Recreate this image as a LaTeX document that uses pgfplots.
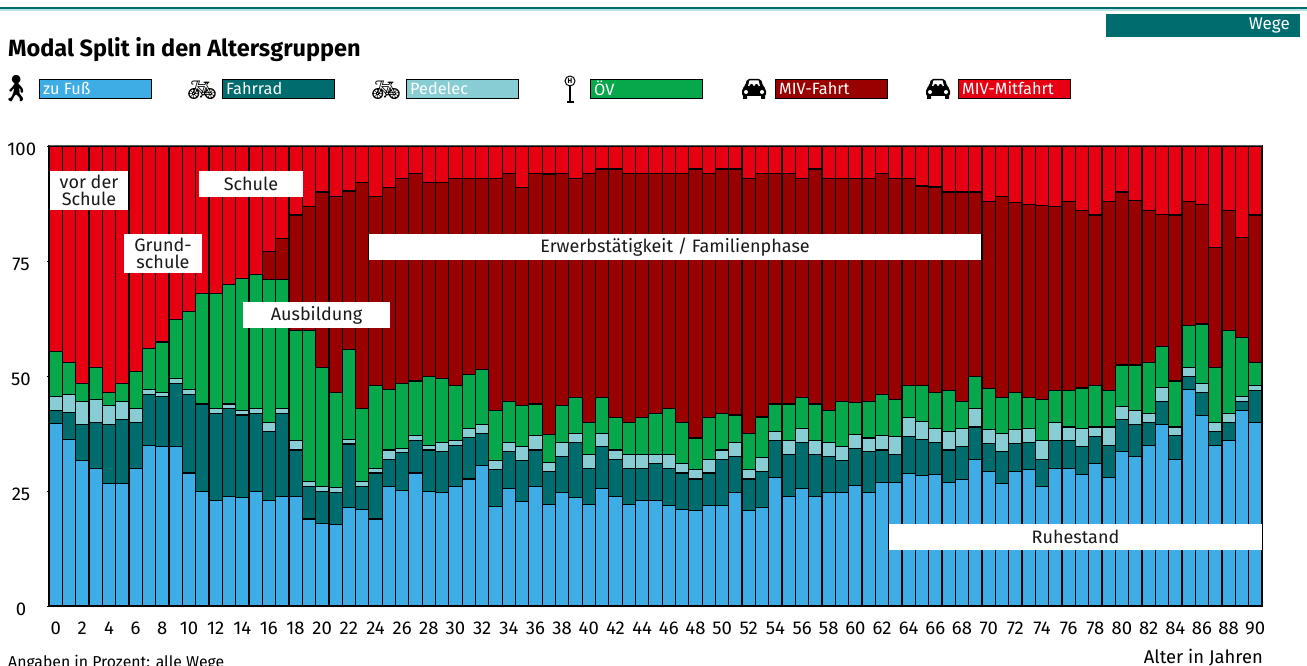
\documentclass[border=0pt]{standalone}
\usepackage{fontspec}
\setmainfont{Fira Sans}
\newfontfamily\emoji{Noto Emoji}
\usepackage{pgfplots}
\usepackage{pgfplotstable}
\pgfplotsset{compat=1.18}

\definecolor{fuss}{HTML}{3FADE5}
\definecolor{rad}{HTML}{006C6E}
\definecolor{ped}{HTML}{88CDD3}
\definecolor{oev}{HTML}{07A74C}
\definecolor{fahrt}{HTML}{990000}
\definecolor{mit}{HTML}{E60012}

% shares in percent
\pgfplotstableread{
age fuss rad ped oev fahrt mit
0 39.6 2.9 3.0 9.8 0 44.7
1 36.2 5.8 4.0 6.9 0 47.1
2 31.6 7.9 5.0 3.9 0 51.6
3 29.9 10.0 5.0 7.0 0 48.1
4 26.7 12.8 4.0 2.9 0 53.6
5 26.7 13.9 3.9 3.9 0 51.6
6 29.9 10.0 3.0 8.0 0 49.1
7 34.9 11.0 1.1 8.9 0 44.1
8 34.6 10.9 0.9 11.0 0 42.6
9 34.6 13.8 1.0 12.9 0 37.7
10 28.9 17.0 1.1 17.0 0 36.0
11 24.9 19.0 0 24.1 0 32.0
12 22.9 19.0 1.0 25.1 0 32.0
13 23.8 19.1 1.0 26.0 0 30.1
14 23.6 17.9 1.0 28.7 0 28.8
15 24.9 17.0 1.0 29.1 0 28.0
16 22.9 15.1 1.9 31.1 6.0 23.0
17 23.8 18.1 1.0 28.1 8.9 20.1
18 23.8 10.1 2.0 24.0 25.1 15.0
19 18.9 7.0 1.1 32.9 27.0 13.1
20 18.0 6.9 1.0 26.0 38.1 10.0
21 17.8 6.8 1.1 20.7 42.7 10.9
22 21.4 13.8 1.0 19.6 34.4 9.8
23 20.9 5.0 1.1 15.9 49.1 8.0
24 18.9 10.0 1.0 18.0 41.2 10.9
25 25.9 6.0 2.0 13.1 44.0 9.0
26 25.1 8.2 0.9 14.2 44.6 7.0
27 28.9 7.0 1.1 11.9 45.1 6.0
28 24.9 9.0 1.0 15.0 42.1 8.0
29 24.6 9.0 1.9 13.9 42.6 8.0
30 25.9 9.0 1.0 12.0 45.1 7.0
31 27.6 9.0 2.0 11.8 42.6 7.0
32 30.6 6.9 1.9 12.0 41.6 7.0
33 21.7 7.9 2.0 10.9 50.5 7.0
34 25.6 8.0 1.9 8.9 49.6 6.0
35 22.8 8.8 3.0 8.9 47.5 9.0
36 25.9 8.0 3.1 6.9 50.1 6.0
37 22.1 7.1 2.0 6.0 56.7 6.1
38 24.6 7.9 3.0 8.0 50.5 6.0
39 23.6 11.9 2.0 7.9 47.6 7.0
40 22.0 7.9 3.0 7.0 54.1 6.0
41 25.6 9.0 2.9 7.9 49.6 5.0
42 23.8 8.1 2.0 7.0 54.1 5.0
43 22.0 7.9 3.0 7.0 54.1 6.0
44 22.9 7.0 3.0 8.0 53.1 6.0
45 22.9 8.0 2.0 9.0 52.1 6.0
46 21.9 8.0 3.0 10.0 51.1 6.0
47 20.9 8.0 2.0 9.0 54.1 6.0
48 20.7 6.9 2.0 6.9 58.5 5.0
49 21.9 7.0 3.0 9.0 53.1 6.0
50 21.9 10.0 2.0 8.0 53.1 5.0
51 24.6 7.9 3.0 6.0 53.5 5.0
52 20.7 6.9 2.0 7.9 55.5 7.0
53 21.4 7.9 2.9 8.9 52.9 6.0
54 27.9 8.0 2.0 6.0 50.1 6.0
55 23.8 9.1 3.0 8.0 50.1 6.0
56 25.6 10.0 3.0 6.8 47.6 7.0
57 23.8 9.1 3.0 8.0 51.1 5.0
58 24.6 7.9 3.0 7.0 50.5 7.0
59 24.6 7.0 3.0 9.8 48.6 7.0
60 26.2 8.0 3.0 7.1 48.7 7.0
61 24.6 9.0 2.9 7.9 48.6 7.0
62 26.9 7.0 3.1 8.9 48.1 6.0
63 26.9 6.1 3.9 8.0 48.1 7.0
64 28.8 8.1 4.0 7.0 45.1 7.0
65 28.4 7.8 3.9 7.8 43.4 8.7
66 28.6 7.0 3.0 7.8 44.7 8.9
67 26.9 7.0 4.0 9.0 43.1 10.0
68 27.5 7.1 4.0 5.8 45.6 10.0
69 31.9 7.0 4.0 7.0 40.1 10.0
70 29.2 6.1 3.0 9.0 40.6 12.1
71 26.7 6.9 3.9 7.9 43.6 11.0
72 29.2 6.1 3.0 8.1 41.4 12.2
73 29.6 6.0 3.0 6.8 41.8 12.8
74 25.9 6.0 4.0 9.0 42.1 13.0
75 29.9 6.0 4.0 7.0 40.0 13.1
76 29.9 6.0 3.0 8.0 41.1 12.0
77 28.6 6.0 4.0 8.8 38.6 14.0
78 30.9 6.0 2.0 9.0 37.1 15.0
79 27.9 7.0 4.0 8.0 41.1 12.0
80 33.6 7.0 2.8 9.0 37.6 10.0
81 32.5 7.0 3.0 9.9 35.7 11.9
82 34.9 5.0 2.0 11.0 33.1 14.0
83 39.5 4.9 3.1 8.9 28.7 14.9
84 31.9 5.1 1.9 10.0 36.1 15.0
85 47.0 2.9 2.0 9.0 27.1 12.0
86 41.4 5.0 2.0 12.9 25.9 12.8
87 34.9 3.0 2.0 12.0 26.1 22.0
88 35.9 4.0 2.0 18.0 26.1 14.0
89 42.5 2.0 1.0 12.8 21.8 19.9
90 39.9 7.0 1.0 5.0 32.1 15.0
}\modal

% black car seen from the front, centred on #1,#2
\newcommand{\car}[2]{%
  \begin{scope}[shift={(#1,#2)}]
    \fill[black,rounded corners=2pt] (-12,1) -- (-9,-2) -- (-7,-9) -- (7,-9) -- (9,-2) -- (12,1) -- (12,8) -- (-12,8) -- cycle;
    \fill[black] (-11,8) rectangle (-7,11) (7,8) rectangle (11,11);
    \fill[white] (-6,-2) -- (-4.5,-7.5) -- (4.5,-7.5) -- (6,-2) -- cycle;
    \fill[black] (-2.5,-2) circle (2) (2.5,-2) circle (2);
    \fill[white] (-8,4) circle (2) (8,4) circle (2);
  \end{scope}}

\begin{document}
\begin{tikzpicture}
  \useasboundingbox (0,0) rectangle (1307pt,666pt);

  \begin{axis}[
      at={(49pt,60pt)}, anchor=south west,
      scale only axis, width=1213pt, height=460pt,
      ybar stacked, bar width=1,
      xmin=-0.5, xmax=90.5, ymin=0, ymax=100,
      xtick={0,2,...,90}, ytick={0,25,50,75,100},
      axis x line*=bottom, axis y line*=left,
      axis line style={black,line width=0.8pt,-},
      xtick style={draw=none},
      ytick style={black,line width=0.8pt},
      tick align=outside, major tick length=2pt,
      tick label style={font=\fontsize{18.5}{18.5}\selectfont,
        /pgf/number format/assume math mode=true},
      xticklabel style={yshift=-10pt},
      yticklabel style={text width=27pt,align=center,xshift=-9pt,yshift=-3pt},
      every axis plot/.append style={draw=black,line width=1.2pt},
      clip=false,
    ]
    \addplot[fill=fuss] table[x=age,y=fuss] {\modal};
    \addplot[fill=rad] table[x=age,y=rad] {\modal};
    \addplot[fill=ped] table[x=age,y=ped] {\modal};
    \addplot[fill=oev] table[x=age,y=oev] {\modal};
    \addplot[fill=fahrt] table[x=age,y=fahrt] {\modal};
    \addplot[fill=mit] table[x=age,y=mit] {\modal};
  \end{axis}

  % everything else in the picture's pixels, counted from the top left
  \begin{scope}[x=1pt,y=-1pt,shift={(0pt,666pt)}]
  \draw[black!65,line width=1pt] (49,146) -- (1262,146);

  % header
  \fill[rad] (0,7) rectangle (1307,9.5);
  \fill[ped!60] (0,9.5) rectangle (1307,11);
  \fill[rad] (1106,14) rectangle (1300,37);
  \node[anchor=east,text=white,inner sep=0pt,font=\fontsize{17}{17}\selectfont] at (1290,25) {Wege};
  \node[anchor=base west,inner sep=0pt,font=\fontsize{23.5}{23.5}\bfseries] at (8,57) {Modal Split in den Altersgruppen};

  % legend
  \foreach \x/\c/\t in {39/fuss/zu Fuß,222/rad/Fahrrad,406/ped/Pedelec,590/oev/ÖV,775/fahrt/MIV-Fahrt,958/mit/MIV-Mitfahrt}{
    \draw[black,fill=\c,line width=0.8pt] (\x,79) rectangle (\x+112,98.5);
    \node[anchor=west,text=white,inner sep=0pt,font=\fontsize{16.3}{16.3}\selectfont] at (\x+4,88.5) {\t};
  }
  \node[inner sep=0pt,font=\emoji\fontsize{26}{26}\selectfont] at (16,89) {🚶};
  \node[inner sep=0pt,font=\emoji\fontsize{24}{24}\selectfont] at (202,90) {🚲};
  \node[inner sep=0pt,font=\emoji\fontsize{24}{24}\selectfont] at (386,90) {🚲};
  % bus stop
  \draw[black,line width=1pt] (570,81) circle (5);
  \node[inner sep=0pt,font=\fontsize{7}{7}\bfseries] at (570,81) {H};
  \draw[black,line width=1.2pt] (570,86) -- (570,102) (566.5,102) -- (573.5,102);
  \car{754}{88}
  \car{938}{88}

  % life phases
  \foreach \a/\b/\c/\d/\t in {
      50/171/128/210/{vor der\\[-1pt]Schule},
      199/171/303/197/{Schule},
      124/234/202/273/{Grund-\\[-1pt]schule},
      243/302/390/328/{Ausbildung},
      369/234/981/260/{Erwerbstätigkeit / Familienphase},
      889/524/1262/550/{Ruhestand}}{
    \fill[white] (\a,\b) rectangle (\c,\d);
    \node[align=center,inner sep=0pt,text=black!90,font=\fontsize{18}{18}\selectfont]
      at ({(\a+\c)/2},{(\b+\d)/2}) {\t};
  }

  \node[anchor=base east,inner sep=0pt,font=\fontsize{18.4}{18.4}\selectfont] at (1263,664) {Alter in Jahren};
  \node[anchor=base west,inner sep=0pt,font=\fontsize{15.8}{15.8}\selectfont] at (8,668) {Angaben in Prozent: alle Wege};
  \end{scope}
\end{tikzpicture}
\end{document}
